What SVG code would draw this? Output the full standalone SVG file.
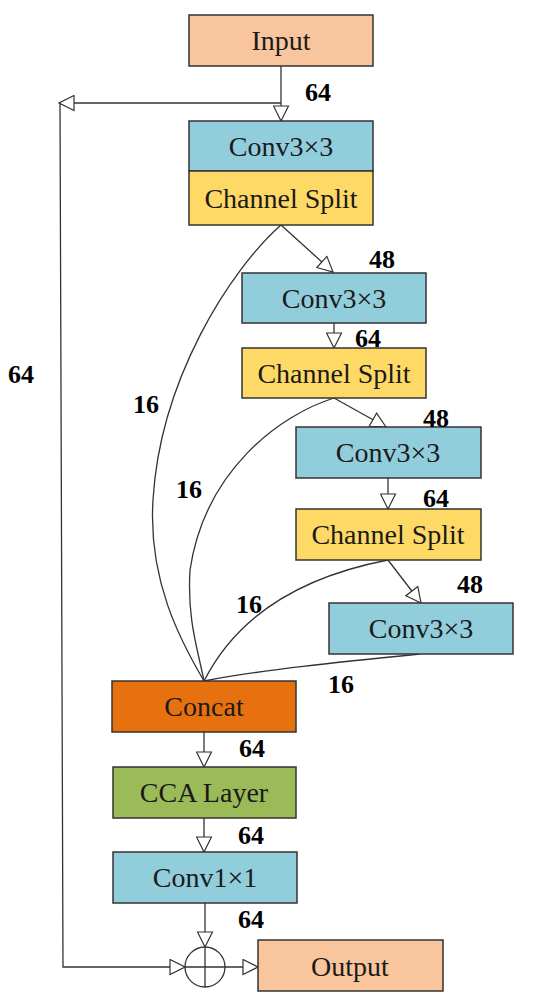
<svg xmlns="http://www.w3.org/2000/svg" width="550" height="1003" viewBox="0 0 550 1003">
<defs>
<style>
.box{stroke:#333;stroke-width:1.5}
.t{font-family:"Liberation Serif","Times New Roman",serif;font-size:28px;fill:#1a1a1a;text-anchor:middle}
.l{font-family:"Liberation Serif","Times New Roman",serif;font-size:26px;font-weight:bold;fill:#000}
.c{fill:none;stroke:#333;stroke-width:1.3}
.a{fill:none;stroke:#333;stroke-width:1.3;marker-end:url(#arr)}
</style>
<marker id="arr" markerUnits="userSpaceOnUse" markerWidth="17" markerHeight="17" refX="15" refY="7.5" orient="auto" viewBox="-1 -1 17 17">
<path d="M0,0 L15,7.5 L0,15 z" fill="#fff" stroke="#333" stroke-width="1.2"/>
</marker>
</defs>
<rect width="550" height="1003" fill="#fff"/>
<g id="connectors">
<path class="a" d="M281,66 L281,121"/>
<path class="a" d="M281,103 L59,103"/>
<path class="a" d="M60,103 L63,967 L185,967"/>
<path class="a" d="M281,225 L333,272"/>
<path class="a" d="M334,323 L334,348"/>
<path class="a" d="M334,398 L386,427"/>
<path class="a" d="M388,478 L388,509"/>
<path class="a" d="M388,560 L421,603"/>
<path class="c" d="M281,225 C230,270 160,380 153,500 C148,580 180,640 204,681"/>
<path class="c" d="M334,398 C280,415 205,470 190,570 C187,620 198,650 204,681"/>
<path class="c" d="M388,560 C310,575 240,610 204,681"/>
<path class="c" d="M420,654 C340,662 260,670 204,681"/>
<path class="a" d="M204,732 L204,767"/>
<path class="a" d="M204,818 L204,852"/>
<path class="a" d="M205,903 L205,947"/>
<path class="a" d="M225,967 L258,967"/>
</g>
<g id="input"><rect class="box" x="189" y="15" width="184" height="51" fill="#F8C59D"/><text class="t" x="281" y="50">Input</text></g>
<g id="conv1"><rect class="box" x="189" y="121" width="184" height="50" fill="#92CDDC"/><text class="t" x="281" y="156">Conv3×3</text></g>
<g id="split1"><rect class="box" x="189" y="171" width="184" height="54" fill="#FFD966"/><text class="t" x="281" y="208">Channel Split</text></g>
<g id="conv2"><rect class="box" x="242" y="273" width="184" height="50" fill="#92CDDC"/><text class="t" x="334" y="308">Conv3×3</text></g>
<g id="split2"><rect class="box" x="242" y="348" width="184" height="50" fill="#FFD966"/><text class="t" x="334" y="383">Channel Split</text></g>
<g id="conv3"><rect class="box" x="296" y="427" width="185" height="51" fill="#92CDDC"/><text class="t" x="388" y="462">Conv3×3</text></g>
<g id="split3"><rect class="box" x="296" y="509" width="185" height="51" fill="#FFD966"/><text class="t" x="388" y="544">Channel Split</text></g>
<g id="conv4"><rect class="box" x="329" y="603" width="184" height="51" fill="#92CDDC"/><text class="t" x="421" y="638">Conv3×3</text></g>
<g id="concat"><rect class="box" x="112" y="681" width="184" height="51" fill="#E8710F"/><text class="t" x="204" y="716">Concat</text></g>
<g id="cca"><rect class="box" x="113" y="767" width="183" height="51" fill="#9BBB59"/><text class="t" x="204" y="802">CCA Layer</text></g>
<g id="conv1x1"><rect class="box" x="113" y="852" width="184" height="51" fill="#92CDDC"/><text class="t" x="205" y="887">Conv1×1</text></g>
<g id="sum"><circle cx="205" cy="967" r="20" fill="#fff" stroke="#333" stroke-width="1.3"/><path d="M205,947 V987 M185,967 H225" stroke="#333" stroke-width="1.3"/></g>
<g id="output"><rect class="box" x="258" y="940" width="185" height="51" fill="#F8C59D"/><text class="t" x="350" y="976">Output</text></g>
<g id="labels">
<text class="l" x="305" y="101">64</text>
<text class="l" x="8" y="383">64</text>
<text class="l" x="369" y="268">48</text>
<text class="l" x="355" y="347">64</text>
<text class="l" x="423" y="427">48</text>
<text class="l" x="423" y="507">64</text>
<text class="l" x="457" y="593">48</text>
<text class="l" x="133" y="413">16</text>
<text class="l" x="176" y="498">16</text>
<text class="l" x="236" y="613">16</text>
<text class="l" x="328" y="693">16</text>
<text class="l" x="239" y="757">64</text>
<text class="l" x="238" y="844">64</text>
<text class="l" x="238" y="928">64</text>
</g>
</svg>
